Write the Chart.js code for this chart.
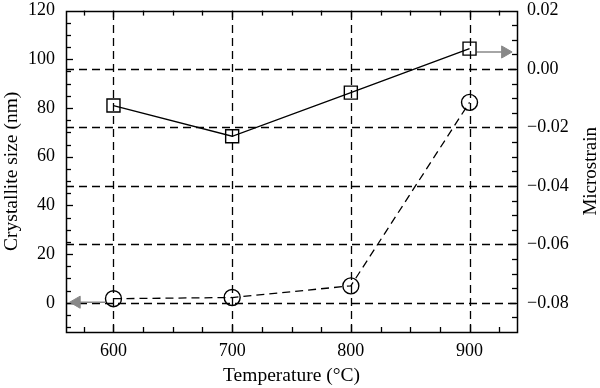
<!DOCTYPE html>
<html><head><meta charset="utf-8">
<script src="https://cdn.jsdelivr.net/npm/chart.js@4.4.1/dist/chart.umd.min.js"></script>
<style>html,body{margin:0;padding:0;background:#fff}#wrap{width:600px;height:388px;position:relative}</style>
</head><body><div id="wrap"><canvas id="c" width="600" height="388"></canvas></div>
<script>
// ---- data ----
const temperatures = [600, 700, 800, 900];
const crystalliteSize = [81.0, 68.4, 86.3, 104.4];
const microstrain = [-0.0786, -0.0782, -0.0742, -0.0114];
const xTicks = [600, 700, 800, 900];
const leftTicks = [0, 20, 40, 60, 80, 100, 120];
const rightTicks = [-0.08, -0.06, -0.04, -0.02, 0.00, 0.02];
const sizeArrow = [{x: 906, y: 103}, {x: 930, y: 103}];
const strainArrow = [{x: 593, y: -0.0798}, {x: 569, y: -0.0798}];
const rightTitle = 'Microstrain';

const FONT = "'Liberation Serif', 'Times New Roman', serif";

const framePlugin = {
  id: 'frame',
  beforeDatasetsDraw(chart) {
    const ctx = chart.ctx, a = chart.chartArea;
    const sx = chart.scales.x, sy = chart.scales.y, sy2 = chart.scales.y2;
    ctx.save();
    ctx.strokeStyle = '#000';
    ctx.lineWidth = 1.3;
    ctx.setLineDash([8, 5]);
    xTicks.forEach(v => {
      const px = Math.round(sx.getPixelForValue(v)) + 0.5;
      ctx.beginPath(); ctx.moveTo(px, a.bottom); ctx.lineTo(px, a.top); ctx.stroke();
    });
    rightTicks.forEach(v => {
      const py = Math.round(sy2.getPixelForValue(v)) + 0.5;
      if (py <= a.top + 2 || py >= a.bottom - 2) return;
      ctx.beginPath(); ctx.moveTo(a.left, py); ctx.lineTo(a.right, py); ctx.stroke();
    });
    ctx.setLineDash([]);
    ctx.lineWidth = 1.3;
    for (let v = 575; v <= 925; v += 25) {
      const px = Math.round(sx.getPixelForValue(v)) + 0.5;
      const len = (v % 100 === 0) ? 7 : 5;
      ctx.beginPath(); ctx.moveTo(px, a.bottom); ctx.lineTo(px, a.bottom - len); ctx.stroke();
      ctx.beginPath(); ctx.moveTo(px, a.top); ctx.lineTo(px, a.top + len); ctx.stroke();
    }
    for (let v = -10; v <= 115; v += 5) {
      const py = Math.round(sy.getPixelForValue(v)) + 0.5;
      const len = (v % 20 === 0) ? 7 : 5;
      ctx.beginPath(); ctx.moveTo(a.left, py); ctx.lineTo(a.left + len, py); ctx.stroke();
    }
    for (let i = -17; i <= 3; i++) {
      const v = i * 0.005;
      const py = Math.round(sy2.getPixelForValue(v)) + 0.5;
      const len = (i % 4 === 0) ? 7 : 5;
      ctx.beginPath(); ctx.moveTo(a.right, py); ctx.lineTo(a.right - len, py); ctx.stroke();
    }
    ctx.lineWidth = 1.5;
    ctx.strokeRect(Math.round(a.left) + 0.5, Math.round(a.top) + 0.5, Math.round(a.right - a.left), Math.round(a.bottom - a.top));
    ctx.restore();
  },
  afterDraw(chart) {
    const ctx = chart.ctx, a = chart.chartArea;
    ctx.save();
    ctx.fillStyle = '#000';
    ctx.font = "19px " + FONT;
    ctx.textAlign = 'center';
    ctx.textBaseline = 'middle';
    ctx.translate(chart.width - 9, (a.top + a.bottom) / 2);
    ctx.rotate(-Math.PI / 2);
    ctx.fillText(rightTitle, 0, 0);
    ctx.restore();
  }
};

const fmtRight = v => {
  const s = Math.abs(v).toFixed(2);
  return (v < -1e-9 ? '\u2212' : '') + s;
};

new Chart(document.getElementById('c'), {
  type: 'line',
  data: {
    datasets: [
      {
        label: 'Crystallite size',
        data: temperatures.map((t, i) => ({x: t, y: crystalliteSize[i]})),
        yAxisID: 'y',
        borderColor: '#000', borderWidth: 1.3,
        pointStyle: 'rect', pointRadius: 9.2, pointHoverRadius: 9.2,
        pointBackgroundColor: 'rgba(0,0,0,0)', pointBorderColor: '#000', pointBorderWidth: 1.4,
        tension: 0, order: 1
      },
      {
        label: 'Microstrain',
        data: temperatures.map((t, i) => ({x: t, y: microstrain[i]})),
        yAxisID: 'y2',
        borderColor: '#000', borderWidth: 1.3, borderDash: [8, 5],
        pointStyle: 'circle', pointRadius: 8, pointHoverRadius: 8,
        pointBackgroundColor: 'rgba(0,0,0,0)', pointBorderColor: '#000', pointBorderWidth: 1.4,
        tension: 0, order: 2
      },
      {
        label: 'arrow-size',
        data: sizeArrow,
        yAxisID: 'y',
        borderColor: '#888', borderWidth: 1.6,
        pointStyle: 'triangle', pointRadius: [0, 7], rotation: [0, 90],
        pointBackgroundColor: '#888', pointBorderColor: '#888', pointBorderWidth: 1,
        order: 3
      },
      {
        label: 'arrow-strain',
        data: strainArrow,
        yAxisID: 'y2',
        borderColor: '#888', borderWidth: 1.6,
        pointStyle: 'triangle', pointRadius: [0, 7], rotation: [0, -90],
        pointBackgroundColor: '#888', pointBorderColor: '#888', pointBorderWidth: 1,
        order: 4
      }
    ]
  },
  options: {
    responsive: false,
    animation: false,
    layout: {padding: {top: 6, left: 0, right: 0, bottom: 0}},
    plugins: {legend: {display: false}, tooltip: {enabled: false}},
    events: [],
    scales: {
      x: {
        type: 'linear', position: 'bottom', min: 560, max: 940,
        afterBuildTicks: s => { s.ticks = xTicks.map(v => ({value: v})); },
        afterFit: s => { s.height = 56; s.paddingLeft = 0; s.paddingRight = 0; },
        grid: {display: false, drawTicks: false},
        border: {display: false},
        ticks: {color: '#000', font: {family: FONT, size: 18}, padding: 8, maxRotation: 0, callback: v => String(v)},
        title: {display: true, text: 'Temperature (\u00B0C)', color: '#000', font: {family: FONT, size: 19.5}, padding: {top: 2, bottom: 0}}
      },
      y: {
        type: 'linear', position: 'left', min: -12, max: 120,
        afterBuildTicks: s => { s.ticks = leftTicks.map(v => ({value: v})); },
        afterFit: s => { s.width = 66; s.paddingTop = 0; s.paddingBottom = 0; },
        grid: {display: false, drawTicks: false},
        border: {display: false},
        ticks: {color: '#000', font: {family: FONT, size: 18}, padding: 11, callback: v => String(v)},
        title: {display: true, text: 'Crystallite size (nm)', color: '#000', font: {family: FONT, size: 19.5}, padding: {top: 0, bottom: 0}}
      },
      y2: {
        type: 'linear', position: 'right', min: -0.09, max: 0.02,
        afterBuildTicks: s => { s.ticks = rightTicks.map(v => ({value: v})); },
        afterFit: s => { s.width = 83; s.paddingTop = 0; s.paddingBottom = 0; },
        grid: {display: false, drawTicks: false},
        border: {display: false},
        ticks: {color: '#000', font: {family: FONT, size: 18}, padding: 10, callback: v => fmtRight(v)},
        title: {display: false}
      }
    }
  },
  plugins: [framePlugin]
});
</script>
</body></html>
